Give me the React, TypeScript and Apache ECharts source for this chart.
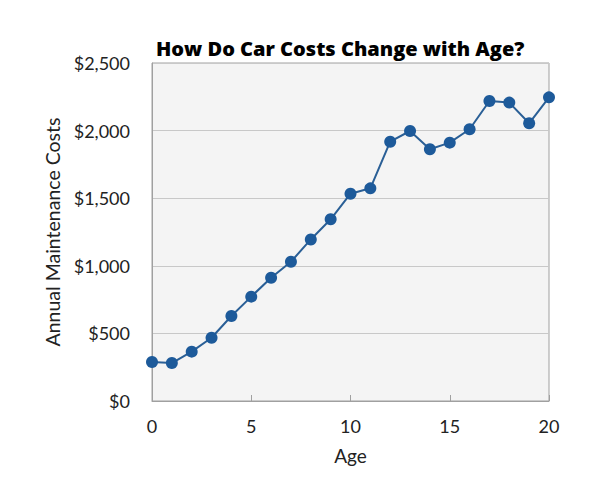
import React, { useEffect, useRef } from "react";
import * as echarts from "echarts";

const ages = [0, 1, 2, 3, 4, 5, 6, 7, 8, 9, 10, 11, 12, 13, 14, 15, 16, 17, 18, 19, 20];
const costs = [288, 281, 365, 468, 629, 772, 912, 1030, 1195, 1344, 1533, 1573, 1918, 1997, 1862, 1911, 2010, 2219, 2207, 2054, 2246];
const titleText = "How Do Car Costs Change with Age?";
const xName = "Age";
const yName = "Annual Maintenance Costs";

export default function App() {
  const ref = useRef<HTMLDivElement>(null);
  useEffect(() => {
    if (!ref.current) return;
    const chart = echarts.init(ref.current, null, { renderer: "svg" });
    const font = "Lato, 'Open Sans', sans-serif";
    chart.setOption({
      animation: false,
      backgroundColor: "#ffffff",
      textStyle: { fontFamily: font },
      title: {
        text: titleText,
        left: 151,
        top: 33,
        textStyle: { fontFamily: "'Open Sans', sans-serif", fontSize: 20, fontWeight: 800, color: "#000" },
      },
      grid: {
        left: 152,
        right: 51,
        top: 63,
        bottom: 95,
        show: true,
        backgroundColor: "#f4f4f4",
        borderColor: "#a0a0a0",
        borderWidth: 1,
      },
      xAxis: {
        type: "value",
        min: 0,
        max: 20,
        interval: 5,
        name: xName,
        nameLocation: "middle",
        nameGap: 45,
        nameTextStyle: { fontFamily: font, fontSize: 19, color: "#222" },
        axisLine: { show: true, lineStyle: { color: "#a0a0a0", width: 1 } },
        axisTick: { show: true, inside: true, length: 6, lineStyle: { color: "#a0a0a0" } },
        axisLabel: { fontFamily: font, fontSize: 18, color: "#222", margin: 16 },
        splitLine: { show: false },
      },
      yAxis: {
        type: "value",
        min: 0,
        max: 2500,
        interval: 500,
        name: yName,
        nameLocation: "middle",
        nameGap: 90,
        nameTextStyle: { fontFamily: font, fontSize: 19.5, color: "#222" },
        axisLine: { show: true, lineStyle: { color: "#a0a0a0", width: 1 } },
        axisTick: { show: false },
        axisLabel: {
          fontFamily: font,
          fontSize: 18,
          color: "#222",
          margin: 22,
          formatter: (v: number) => "$" + v.toLocaleString("en-US"),
        },
        splitLine: { show: true, lineStyle: { color: "#c8c8c8", width: 1 } },
      },
      series: [
        {
          type: "line",
          data: ages.map((a, i) => [a, costs[i]]),
          symbol: "circle",
          symbolSize: 12,
          lineStyle: { color: "#2a5f96", width: 2 },
          itemStyle: { color: "#1d5a9a" },
        },
      ],
    });
    return () => chart.dispose();
  }, []);
  return <div ref={ref} style={{ width: 600, height: 496, margin: -8 }} />;
}
